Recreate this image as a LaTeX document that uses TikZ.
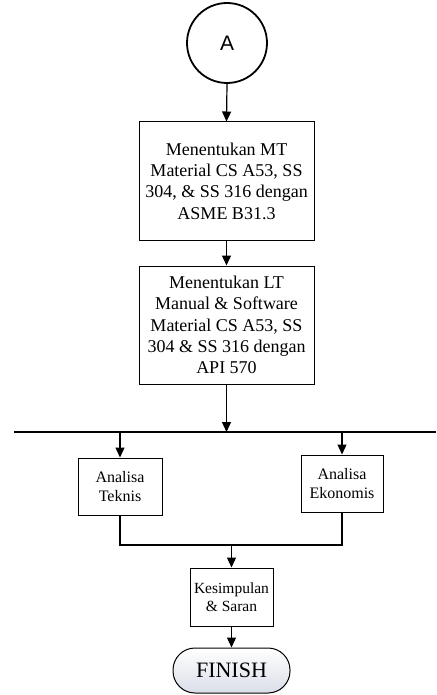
\documentclass[tikz,border=0pt]{standalone}
\usepackage{fontspec}
\setmainfont{Liberation Serif}
\newfontfamily\sansA{Liberation Sans}
\usetikzlibrary{arrows.meta,calc}
\begin{document}
\begin{tikzpicture}[x=1pt,y=-1pt,
  arr/.style={-{Triangle[length=10pt,width=9pt]},line width=1.2pt},
  box/.style={draw,line width=1pt,align=center,inner sep=0pt},
  bigtxt/.style={font=\fontsize{18}{21.3}\selectfont},
  smalltxt/.style={font=\fontsize{16}{19}\selectfont},
]
\useasboundingbox (0,0) rectangle (436,695);
\node[draw,circle,line width=1.8pt,minimum size=80pt,inner sep=0pt,font=\sansA\fontsize{21}{24}\selectfont] (A) at (227,43) {A};
\node[box,bigtxt,minimum width=175pt,minimum height=118pt] (b1) at (226.5,181)
  {Menentukan MT\\Material CS A53, SS\\304, \& SS 316 dengan\\ASME B31.3};
\node[box,bigtxt,minimum width=175pt,minimum height=118pt] (b2) at (226.5,325)
  {Menentukan LT\\Manual \& Software\\Material CS A53, SS\\304 \& SS 316 dengan\\API 570};
\coordinate (L) at (14,432);
\coordinate (R) at (436,432);
\node[box,smalltxt,minimum width=84pt,minimum height=57pt] (tek) at (120,486.5) {Analisa\\Teknis};
\node[box,smalltxt,minimum width=82pt,minimum height=57pt] (eko) at (342,483.5) {Analisa\\Ekonomis};
\node[box,font=\fontsize{15.5}{17.7}\selectfont,minimum width=83pt,minimum height=58pt] (kes) at (231.5,597) {Kesimpulan\\\& Saran};
\coordinate (J) at (231.5,545);
\node[draw,line width=1pt,rounded corners=22pt,minimum width=117pt,minimum height=45pt,inner sep=0pt,
  top color=white,bottom color={rgb,255:red,218;green,222;blue,232},font=\fontsize{22}{24}\selectfont] (fin) at (231.5,670.5) {FINISH};

\draw[arr] (A.south) -- (b1.north);
\draw[arr] (b1.south) -- (b2.north);
\draw[line width=1.2pt] (L) -- (R);
\draw[arr] (b2.south) -- (b2.south |- L);
\draw[arr] (tek.north |- L) -- (tek.north);
\draw[arr] (eko.north |- L) -- (eko.north);
\draw[line width=1.2pt] (tek.south) |- (J) -| (eko.south);
\draw[arr] (J) -- (kes.north);
\draw[arr] (kes.south) -- (fin.north);
\end{tikzpicture}
\end{document}
